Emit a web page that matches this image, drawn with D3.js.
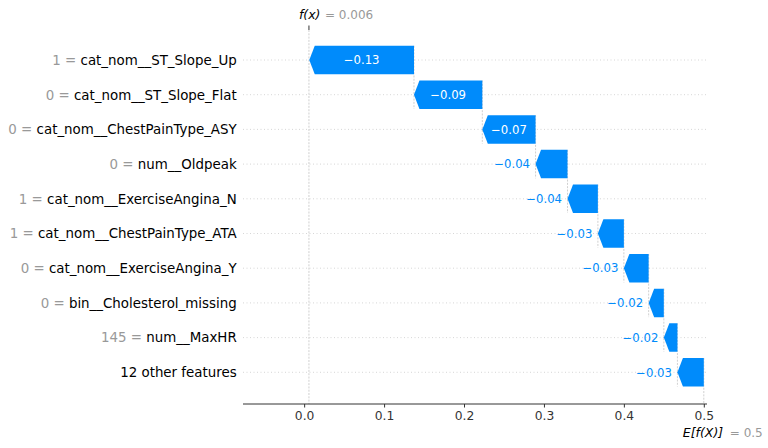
<!DOCTYPE html>
<html><head><meta charset="utf-8">
<script src="https://cdn.jsdelivr.net/npm/d3@7"></script>
<style>
body{margin:0;background:#fff}
svg{display:block;font-family:"DejaVu Sans",sans-serif}
</style>
</head><body>
<svg id="chart" width="768" height="448"></svg>
<script>
// ---- data ----
const featureNames = [
  "cat_nom__ST_Slope_Up",
  "cat_nom__ST_Slope_Flat",
  "cat_nom__ChestPainType_ASY",
  "num__Oldpeak",
  "cat_nom__ExerciseAngina_N",
  "cat_nom__ChestPainType_ATA",
  "cat_nom__ExerciseAngina_Y",
  "bin__Cholesterol_missing",
  "num__MaxHR",
  "12 other features"
];
const featureValues = ["1", "0", "0", "0", "1", "1", "0", "0", "145", ""];
const shapValues = [-0.131, -0.0855, -0.0666, -0.040, -0.038, -0.0325, -0.031, -0.019, -0.017, -0.033];
const baseValue = 0.5;
const fxValue = 0.006;
const xTickValues = [0.0, 0.1, 0.2, 0.3, 0.4, 0.5];

// ---- layout ----
const svg = d3.select("#chart");
const axisY = 404, topY = 30;
const x = d3.scaleLinear().domain([-0.0765, 0.504]).range([243, 707]);
const y = d3.scaleLinear().domain([0, 9]).range([60, 372.3]);
const rowH = y(1) - y(0);
const halfH = 0.41 * rowH;
const blue = "#008bfb";
const fmt = d3.format(".2f");

// cumulative positions (bottom row starts at base value)
const starts = new Array(shapValues.length), ends = new Array(shapValues.length);
let cur = baseValue;
for (let i = shapValues.length - 1; i >= 0; i--) {
  starts[i] = cur; cur += shapValues[i]; ends[i] = cur;
}

const grid = svg.append("g");
// horizontal row lines
grid.selectAll("line.h").data(featureNames).join("line")
  .attr("x1", x.range()[0]).attr("x2", x.range()[1])
  .attr("y1", (d, i) => y(i)).attr("y2", (d, i) => y(i))
  .attr("stroke", "#cccccc").attr("stroke-width", 0.8).attr("stroke-dasharray", "1,2.5");

// connector lines
grid.selectAll("line.c").data(shapValues).join("line")
  .attr("x1", (d, i) => x(starts[i])).attr("x2", (d, i) => x(starts[i]))
  .attr("y1", (d, i) => y(i) - halfH)
  .attr("y2", (d, i) => Math.min(axisY, y(i + 1) + halfH))
  .attr("stroke", "#bbbbbb").attr("stroke-width", 0.7).attr("stroke-dasharray", "2,1.3");

// f(x) line
grid.append("line")
  .attr("x1", x(fxValue)).attr("x2", x(fxValue))
  .attr("y1", topY).attr("y2", axisY)
  .attr("stroke", "#bbbbbb").attr("stroke-width", 0.7).attr("stroke-dasharray", "2,1.3");

// bars
const bars = svg.append("g");
bars.selectAll("polygon").data(shapValues).join("polygon")
  .attr("fill", d => d < 0 ? blue : "#ff0051")
  .attr("points", (d, i) => {
    const xs = x(starts[i]), xe = x(ends[i]);
    const dir = xe < xs ? 1 : -1;
    const w = Math.abs(xs - xe);
    const hl = Math.min(5.5, w);
    const yc = y(i), t = yc - halfH, b = yc + halfH;
    return [[xs, t], [xe + dir * hl, t], [xe, yc], [xe + dir * hl, b], [xs, b]].map(p => p.join(",")).join(" ");
  });

// value labels
const labels = svg.append("g").attr("font-size", 11.7);
shapValues.forEach((v, i) => {
  const xs = x(starts[i]), xe = x(ends[i]);
  const w = Math.abs(xs - xe);
  const t = labels.append("text").text(fmt(v)).attr("y", y(i)).attr("dy", "0.36em");
  const tw = t.node().getComputedTextLength();
  if (tw + 6 < w) {
    t.attr("x", (xs + xe) / 2).attr("text-anchor", "middle").attr("fill", "#ffffff");
  } else {
    t.attr("x", Math.min(xs, xe) - 5.5).attr("text-anchor", "end").attr("fill", blue);
  }
});

// y labels
const ylab = svg.append("g").attr("font-size", 13.4);
featureNames.forEach((name, i) => {
  const t = ylab.append("text").attr("x", 236.7).attr("y", y(i)).attr("dy", "0.36em").attr("text-anchor", "end");
  if (featureValues[i] !== "") t.append("tspan").attr("fill", "#999999").text(featureValues[i] + " = ");
  t.append("tspan").attr("fill", "#000000").text(name);
});

// bottom axis
const axis = svg.append("g").attr("transform", `translate(0,${axisY})`)
  .call(d3.axisBottom(x).tickValues(xTickValues).tickFormat(d3.format(".1f")).tickSize(3.5).tickPadding(4));
axis.select(".domain").attr("stroke", "#333333").attr("stroke-width", 1);
axis.selectAll(".tick line").attr("stroke", "#333333");
axis.selectAll(".tick text").attr("fill", "#333333").attr("font-size", 12.3).attr("font-family", "DejaVu Sans");
// remove outer tick caps of the domain path
axis.select(".domain").attr("d", `M${x.range()[0]},0H${x.range()[1]}`);

// top f(x) tick and label
svg.append("line").attr("x1", x(fxValue)).attr("x2", x(fxValue)).attr("y1", topY - 4.5).attr("y2", topY)
  .attr("stroke", "#333333").attr("stroke-width", 1);
svg.append("text").attr("x", x(fxValue) - 10).attr("y", 19).attr("font-size", 12.5)
  .attr("font-style", "italic").attr("fill", "#000").text("f(x)");
svg.append("text").attr("x", x(fxValue) + 16).attr("y", 19).attr("font-size", 12)
  .attr("fill", "#999999").text("= " + d3.format(".3f")(fxValue));

// bottom E[f(X)] label
svg.append("text").attr("x", x(baseValue) - 21).attr("y", 437).attr("font-size", 12.5)
  .attr("font-style", "italic").attr("fill", "#000").text("E[f(X)]");
svg.append("text").attr("x", x(baseValue) + 26).attr("y", 437).attr("font-size", 12)
  .attr("fill", "#999999").text("= " + baseValue);
</script>
</body></html>
